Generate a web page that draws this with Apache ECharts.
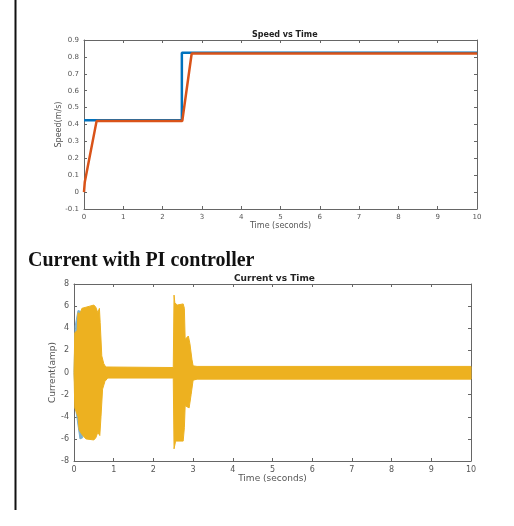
<!DOCTYPE html>
<html><head><meta charset="utf-8">
<script src="https://cdn.jsdelivr.net/npm/echarts@6/dist/echarts.min.js"></script>
<style>html,body{margin:0;padding:0;background:#fff}#c{width:514px;height:526px}</style>
</head><body><div id="c"></div>
<script>
// Speed vs Time
const speedRef = [[0,0.425],[2.49,0.425],[2.49,0.825],[10,0.825]];
const speedAct = [[0,0],[0.02,0.06],[0.05,0.07],[0.32,0.42],[2.5,0.42],[2.74,0.82],[10,0.82]];
// Current vs Time envelope
const curUpper = [[0,0],[0.02,3.6],[0.08,3.8],[0.1,5.4],[0.15,5.3],[0.2,5.8],[0.3,5.9],[0.4,6.0],[0.5,6.1],[0.55,5.9],[0.6,5.4],[0.64,5.8],[0.66,4.5],[0.7,1.5],[0.75,0.8],[0.8,0.5],[2.5,0.45],[2.52,7.0],[2.54,6.3],[2.6,6.1],[2.75,6.2],[2.78,5.8],[2.8,3.0],[2.88,3.3],[2.92,2.6],[2.97,1.2],[3.0,0.6],[3.1,0.55],[10,0.55]];
const curLower = [[0,0],[0.02,-3.2],[0.1,-4.0],[0.13,-5.2],[0.2,-5.6],[0.3,-6.0],[0.5,-6.1],[0.55,-5.9],[0.6,-5.4],[0.65,-5.7],[0.68,-4.0],[0.72,-1.5],[0.78,-0.8],[0.85,-0.5],[2.5,-0.5],[2.52,-6.9],[2.56,-6.2],[2.75,-6.2],[2.78,-5.0],[2.8,-3.0],[2.9,-3.2],[2.95,-2.0],[3.0,-0.7],[3.1,-0.6],[10,-0.6]];
const blueUpper = [[0,0],[0.03,4.2],[0.1,5.6],[0.2,5.5],[0.25,0]];
const blueLower = [[0,0],[0.05,-3.5],[0.15,-6.0],[0.22,-5.9],[0.25,0]];

const axCol = '#666';
const lblCol = '#555';
function xa(grid, fs, name, gap){
  return [{gridIndex:grid,type:'value',min:0,max:10,interval:1,name:name,nameLocation:'middle',nameGap:gap,nameMoveOverlap:false,
    nameTextStyle:{fontSize:fs,color:lblCol,fontFamily:'DejaVu Sans'},
    axisLine:{onZero:false,lineStyle:{color:axCol,width:1}},axisTick:{inside:true,length:3,lineStyle:{color:axCol}},
    axisLabel:{fontSize:fs-1,color:lblCol,margin:5,fontFamily:'DejaVu Sans'},splitLine:{show:false}},
   {gridIndex:grid,type:'value',position:'top',min:0,max:10,interval:1,
    axisLine:{onZero:false,lineStyle:{color:axCol,width:1}},axisTick:{inside:true,length:3,lineStyle:{color:axCol}},
    axisLabel:{show:false},splitLine:{show:false}}];
}
function ya(grid, fs, name, gap, min, max, iv, dec){
  return [{gridIndex:grid,type:'value',min:min,max:max,interval:iv,name:name,nameLocation:'middle',nameGap:gap,nameMoveOverlap:false,
    nameTextStyle:{fontSize:fs,color:lblCol,fontFamily:'DejaVu Sans'},
    axisLine:{show:true,onZero:false,lineStyle:{color:axCol,width:1}},axisTick:{show:true,inside:true,length:3,lineStyle:{color:axCol}},
    axisLabel:{fontSize:fs-1,color:lblCol,margin:5,fontFamily:'DejaVu Sans',formatter:v=>dec?(Math.round(v*10)/10).toString():v},splitLine:{show:false}},
   {gridIndex:grid,type:'value',position:'right',min:min,max:max,interval:iv,
    axisLine:{show:true,onZero:false,lineStyle:{color:axCol,width:1}},axisTick:{show:true,inside:true,length:3,lineStyle:{color:axCol}},
    axisLabel:{show:false},splitLine:{show:false}}];
}
function band(upper, lower, color, z){
  return {type:'custom',xAxisIndex:2,yAxisIndex:2,z:z,data:[[0,0]],
    renderItem:(params, api)=>{
      const pts = upper.map(p=>api.coord(p)).concat(lower.slice().reverse().map(p=>api.coord(p)));
      return {type:'polygon',shape:{points:pts},style:{fill:color,stroke:color,lineWidth:1}};
    }};
}
const chart = echarts.init(document.getElementById('c'));
const xs = xa(0,8,'Time (seconds)',13).concat(xa(1,9,'Time (seconds)',13));
const ys = ya(0,8,'Speed(m/s)',21,-0.1,0.9,0.1,true).concat(ya(1,9,'Current(amp)',17,-8,8,2,false));
chart.setOption({
  animation:false,
  title:[
    {text:'Speed vs Time',top:26,left:247,textStyle:{fontSize:8,fontWeight:'bold',color:'#222',fontFamily:'DejaVu Sans'}},
    {text:'Current vs Time',top:269,left:229,textStyle:{fontSize:9,fontWeight:'bold',color:'#222',fontFamily:'DejaVu Sans'}},
    {text:'Current with PI controller',top:246,left:23,textStyle:{fontSize:20,fontWeight:600,color:'#111',fontFamily:'Liberation Serif'}}
  ],
  graphic:[{type:'line',shape:{x1:15.5,y1:0,x2:15.5,y2:510},style:{stroke:'#111',lineWidth:2}}],
  grid:[{left:84,top:40,width:393,height:169},{left:74,top:284,width:397,height:177}],
  xAxis:xs, yAxis:ys,
  series:[
    {type:'line',xAxisIndex:0,yAxisIndex:0,data:speedRef,showSymbol:false,lineStyle:{color:'#0072BD',width:2.5},z:2},
    {type:'line',xAxisIndex:0,yAxisIndex:0,data:speedAct,showSymbol:false,lineStyle:{color:'#D95319',width:2.5},z:3},
    band(blueUpper, blueLower, '#7fb2cf', 1),
    band(curUpper, curLower, '#EDB120', 2)
  ]
});
</script></body></html>
